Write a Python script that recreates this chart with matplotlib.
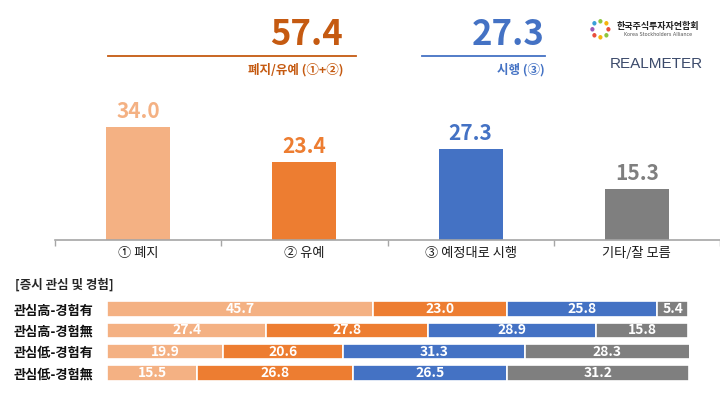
import numpy as np
import matplotlib
matplotlib.use('Agg')
import matplotlib.pyplot as plt

plt.rcParams['font.family'] = ['Noto Sans CJK KR', 'DejaVu Sans']

# 전체 응답
categories = ['① 폐지', '② 유예', '③ 예정대로 시행', '기타/잘 모름']
values = [34.0, 23.4, 27.3, 15.3]
colors = ['#F4B183', '#ED7D31', '#4472C4', '#7F7F7F']

# 합계
sum_labels = ['폐지/유예 (①+②)', '시행 (③)']
sum_values = [57.4, 27.3]
sum_colors = ['#C55A11', '#4472C4']

# 증시 관심 및 경험별
groups = ['관심高-경험有', '관심高-경험無', '관심低-경험有', '관심低-경험無']
g_abolish = [45.7, 27.4, 19.9, 15.5]
g_delay = [23.0, 27.8, 20.6, 26.8]
g_enforce = [25.8, 28.9, 31.3, 26.5]
g_etc = [5.4, 15.8, 28.3, 31.2]

W, H = 720, 395
fig = plt.figure(figsize=(7.2, 3.95), dpi=100)

def fx(px):
    return px / W

def fy(py):
    return 1 - py / H

# 위쪽 막대
ax = fig.add_axes([fx(55), fy(240), fx(665), 133 / H])
x = np.arange(len(categories))
ax.bar(x, values, width=0.385, color=colors)
for i, v in enumerate(values):
    ax.text(i, v + 1.5, f'{v:.1f}', ha='center', va='bottom', color=colors[i],
            fontsize=15, fontweight='bold')
ax.set_xlim(-0.5, 3.372)
ax.set_ylim(0, 40)
ax.set_xticks(x)
ax.set_xticklabels(categories, fontsize=9.5, color='#1a1a1a', fontweight='medium')
ax.tick_params(axis='x', which='major', length=0, pad=5)
ax.set_xticks(np.arange(-0.5, 4, 1), minor=True)
ax.tick_params(axis='x', which='minor', length=4, color='#A6A6A6', width=1)
ax.set_yticks([])
for s in ['top', 'right', 'left']:
    ax.spines[s].set_visible(False)
ax.spines['bottom'].set_color('#A6A6A6')
ax.spines['bottom'].set_linewidth(1.2)
ax.patch.set_alpha(0)

# 합계 헤더
hdr = [(108, 356, 343), (422, 545, 545)]
for (x0, x1, xr), lab, v, c in zip(hdr, sum_labels, sum_values, sum_colors):
    fig.add_artist(plt.Line2D([fx(x0), fx(x1)], [fy(56), fy(56)], color=c, lw=1.3))
    fig.text(fx(xr), fy(52), f'{v:.1f}', ha='right', va='bottom', color=c,
             fontsize=25, fontweight='bold')
    fig.text(fx(xr), fy(70), lab, ha='right', va='center', color=c,
             fontsize=9, fontweight='bold')

# 로고
logo_cols = ['#E94E3C', '#F6B40E', '#8DC63F', '#3AA0D8', '#9B59B6', '#E94E3C', '#F6B40E', '#8DC63F']
ang = np.linspace(0, 2 * np.pi, len(logo_cols), endpoint=False)
for a, c in zip(ang, logo_cols):
    fig.text(fx(600) + 0.011 * np.cos(a), fy(29) + 0.02 * np.sin(a), '●',
             color=c, fontsize=4, ha='center', va='center', family='DejaVu Sans')
fig.text(fx(617), fy(26), '한국주식투자자연합회', fontsize=6.5, fontweight='bold',
         color='#222222', ha='left', va='center')
fig.text(fx(658), fy(35), 'Korea Stockholders Alliance', fontsize=3.5,
         color='#555555', ha='center', va='center', family='DejaVu Sans')
fig.text(fx(656), fy(64), 'REALMETER', fontsize=11, color='#3B4A6B',
         ha='center', va='center', family='Liberation Sans')

# 아래쪽 누적 막대
fig.text(fx(15), fy(285), '[증시 관심 및 경험]', fontsize=9, fontweight='bold',
         color='#262626', ha='left', va='center')

bx = fig.add_axes([fx(107), fy(383.7), fx(582), 85.3 / H])
y = np.arange(len(groups))
left = np.zeros(len(groups))
for seg, c in zip([g_abolish, g_delay, g_enforce, g_etc], colors):
    seg = np.array(seg)
    bx.barh(y, seg, left=left, height=0.72, color=c, edgecolor='white', linewidth=1.2)
    for i, v in enumerate(seg):
        bx.text(left[i] + v / 2, i, f'{v:.1f}', ha='center', va='center',
                color='white', fontsize=10, fontweight='bold')
    left += seg
bx.set_xlim(0, 100)
bx.set_ylim(3.5, -0.5)
bx.set_yticks(y)
bx.set_yticklabels(groups, fontsize=9.5, fontweight='bold', color='#111111')
bx.tick_params(axis='y', length=0, pad=10)
bx.set_xticks([])
for s in bx.spines.values():
    s.set_visible(False)
bx.patch.set_alpha(0)

fig.savefig('out.png', dpi=100, facecolor='white')
